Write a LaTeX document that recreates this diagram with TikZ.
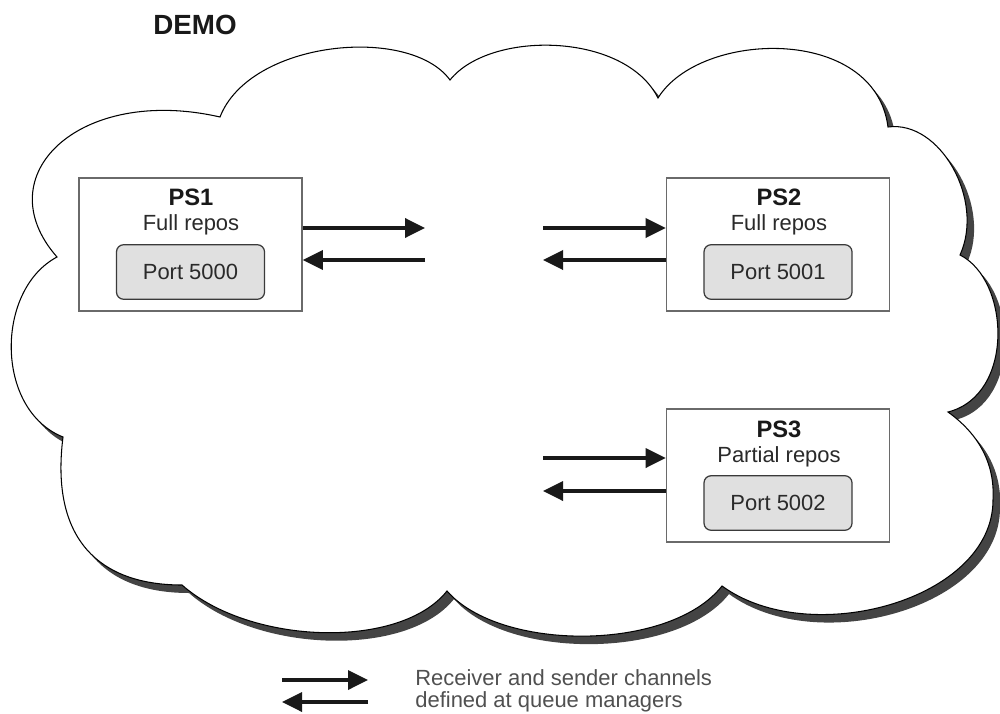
\documentclass[tikz,border=0pt]{standalone}
\usepackage{fontspec}
\setmainfont{Liberation Sans}
\usetikzlibrary{arrows.meta}
\definecolor{shadowc}{HTML}{444444}
\definecolor{boxline}{HTML}{6A6A6A}
\definecolor{portfill}{HTML}{E0E0E0}
\definecolor{portline}{HTML}{3A3A3A}
\definecolor{legtext}{HTML}{505050}
\definecolor{txt}{HTML}{2A2A2A}
\def\cloudpathdemo{(57,257) .. controls (-15,175) and (80,85) .. (220,117)
 .. controls (250,40) and (410,25) .. (450,80)
 .. controls (490,30) and (625,32) .. (658,98)
 .. controls (700,30) and (875,25) .. (888,127)
 .. controls (940,120) and (985,200) .. (960,255)
 .. controls (1010,280) and (1015,395) .. (948,412)
 .. controls (980,435) and (995,465) .. (993,500)
 .. controls (993,600) and (810,650) .. (722,586)
 .. controls (670,652) and (500,652) .. (447,591)
 .. controls (400,650) and (250,645) .. (182,585)
 .. controls (100,585) and (50,540) .. (63,437)
 .. controls (-5,410) and (-5,290) .. (57,257) -- cycle}
\begin{document}
\begin{tikzpicture}[x=0.02cm,y=-0.02cm,
  qmbox/.style={draw=boxline, line width=0.9pt, minimum width=4.46cm, minimum height=2.66cm, inner sep=0pt},
  portbox/.style={draw=portline, fill=portfill, rounded corners=4pt, line width=0.7pt, minimum width=2.96cm, minimum height=1.09cm, inner sep=0pt, font=\fontsize{12.5}{14}\selectfont, text=txt},
  qmtitle/.style={anchor=base, font=\fontsize{13.5}{15}\selectfont\bfseries, text=black!90, inner sep=0pt},
  qmsub/.style={anchor=base, font=\fontsize{12.5}{14}\selectfont, text=txt, inner sep=0pt},
  chan/.style={line width=2pt, draw=black!90, -{Triangle[length=0.4cm,width=0.38cm]}},
  legtxt/.style={anchor=base west, font=\fontsize{12.5}{14}\selectfont, text=legtext, inner sep=0pt}
]
\useasboundingbox (0,0) rectangle (1000,713);
% cloud with shadow
\fill[shadowc, shift={(7,8)}] \cloudpathdemo;
\filldraw[fill=white, draw=black, line width=0.6pt] \cloudpathdemo;
\node[anchor=base, font=\fontsize{15.8}{17}\selectfont\bfseries, text=black!90, inner sep=0pt] (demo) at (195,35) {DEMO};
% PS1
\node[qmbox] (ps1) at (190.5,244.5) {};
\node[qmtitle] (ps1t) at (191,205) {PS1};
\node[qmsub] (ps1s) at (191,230) {Full repos};
\node[portbox] (port1) at (190.5,272) {Port 5000};
% PS2
\node[qmbox] (ps2) at (778,244.5) {};
\node[qmtitle] (ps2t) at (779,205) {PS2};
\node[qmsub] (ps2s) at (779,230) {Full repos};
\node[portbox] (port2) at (778,272) {Port 5001};
% PS3
\node[qmbox] (ps3) at (778,475.5) {};
\node[qmtitle] (ps3t) at (779,437) {PS3};
\node[qmsub] (ps3s) at (779,462) {Partial repos};
\node[portbox] (port3) at (778,503) {Port 5002};
% channels
\coordinate (t1) at (425,228); \coordinate (f1) at (425,260);
\draw[chan] (ps1.east |- t1) -- (t1);
\draw[chan] (f1) -- (ps1.east |- f1);
\coordinate (t2) at (543,228); \coordinate (f2) at (543,260);
\draw[chan] (t2) -- (ps2.west |- t2);
\draw[chan] (ps2.west |- f2) -- (f2);
\coordinate (t3) at (543,458); \coordinate (f3) at (543,491);
\draw[chan] (t3) -- (ps3.west |- t3);
\draw[chan] (ps3.west |- f3) -- (f3);
% legend
\coordinate (la) at (282,680); \coordinate (lb) at (368,680);
\coordinate (lc) at (368,702); \coordinate (ld) at (282,702);
\draw[chan] (la) -- (lb);
\draw[chan] (lc) -- (ld);
\node[legtxt] (leg1) at (415,685) {Receiver and sender channels};
\node[legtxt] (leg2) at (415,707) {defined at queue managers};
\end{tikzpicture}
\end{document}
